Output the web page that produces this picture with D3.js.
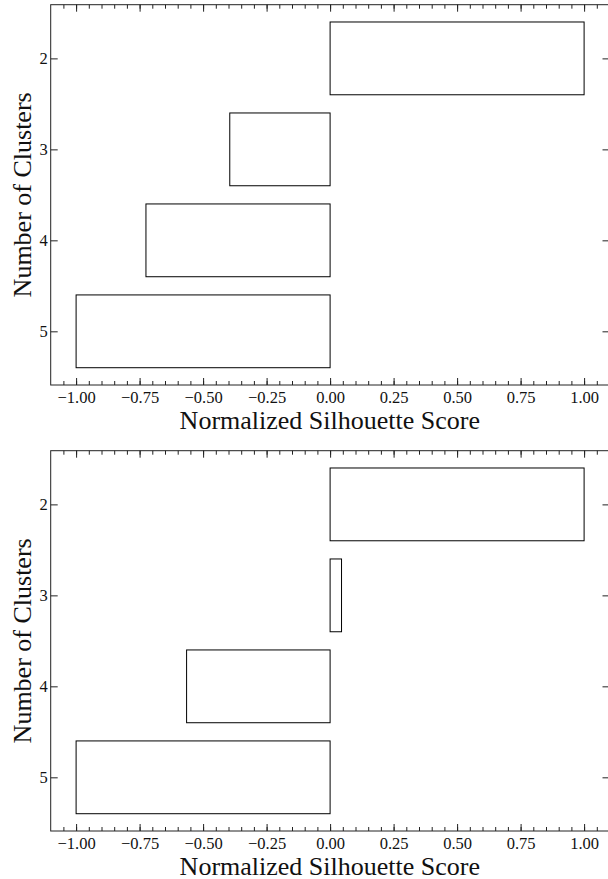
<!DOCTYPE html>
<html>
<head>
<meta charset="utf-8">
<script src="https://cdn.jsdelivr.net/npm/d3@7"></script>
<style>
  html, body { margin: 0; padding: 0; background: #fff; }
  svg { display: block; }
  text { font-family: "Liberation Serif", "DejaVu Serif", serif; fill: #111; }
  .tick text { font-size: 16.5px; }
</style>
</head>
<body>
<svg id="chart" width="608" height="879"></svg>
<script>
// Cluster counts on the vertical axis
const clusters = [2, 3, 4, 5];
// Normalized silhouette scores, one series per panel
const scoresUpper = [1.0, -0.395, -0.725, -1.0];
const scoresLower = [1.0, 0.045, -0.565, -1.0];
// Axis ticks
const xMajorTicks = [-1.0, -0.75, -0.5, -0.25, 0.0, 0.25, 0.5, 0.75, 1.0];
const xMinorTicks = d3.range(-21, 22).map(i => i * 0.05).filter(v => Math.abs(v) <= 1.1 + 1e-9);
const xLabel = "Normalized Silhouette Score";
const yLabel = "Number of Clusters";

const svg = d3.select("#chart");
const left = 50.7, width = 558.8, panelH = 380.3;
const panels = [
  { top: 4.7, scores: scoresUpper },
  { top: 450.7, scores: scoresLower }
];

const x = d3.scaleLinear().domain([-1.1, 1.1]).range([left, left + width]);
const fmt = d3.format(".2f");
const tickFont = "'Liberation Serif', 'DejaVu Serif', serif";

panels.forEach(p => {
  const y = d3.scaleLinear().domain([1.41, 5.59]).range([p.top, p.top + panelH]);
  const g = svg.append("g");
  const bottom = p.top + panelH, right = left + width;

  // bars, outlined only
  g.selectAll("rect.bar").data(clusters).join("rect")
    .attr("class", "bar")
    .attr("x", (c, i) => x(Math.min(0, p.scores[i])))
    .attr("width", (c, i) => Math.abs(x(p.scores[i]) - x(0)))
    .attr("y", c => y(c - 0.4))
    .attr("height", c => y(c + 0.4) - y(c - 0.4))
    .attr("fill", "none")
    .attr("stroke", "#000")
    .attr("stroke-width", 1);

  // bottom axis with inward ticks
  const ax = g.append("g").attr("transform", `translate(0,${bottom})`)
    .call(d3.axisBottom(x).tickValues(xMajorTicks).tickSize(-7).tickFormat(fmt))
    .attr("font-size", 16.5).attr("font-family", tickFont);
  ax.select(".domain").remove();
  ax.selectAll(".tick line").attr("stroke", "#222");
  ax.selectAll(".tick text").attr("y", 17.7).attr("dy", 0).attr("fill", "#111");
  g.append("g").attr("transform", `translate(0,${bottom})`)
    .call(d3.axisBottom(x).tickValues(xMinorTicks).tickSize(-4).tickFormat(""))
    .call(s => s.select(".domain").remove())
    .selectAll(".tick line").attr("stroke", "#222");

  // top axis: major and minor ticks, no labels
  g.append("g").attr("transform", `translate(0,${p.top})`)
    .call(d3.axisTop(x).tickValues(xMajorTicks).tickSize(-7).tickFormat(""))
    .call(s => s.select(".domain").remove())
    .selectAll(".tick line").attr("stroke", "#222");
  g.append("g").attr("transform", `translate(0,${p.top})`)
    .call(d3.axisTop(x).tickValues(xMinorTicks).tickSize(-4).tickFormat(""))
    .call(s => s.select(".domain").remove())
    .selectAll(".tick line").attr("stroke", "#222");

  // left axis with category labels
  const ay = g.append("g").attr("transform", `translate(${left},0)`)
    .call(d3.axisLeft(y).tickValues(clusters).tickSize(-7).tickFormat(d3.format("d")))
    .attr("font-size", 16.5).attr("font-family", tickFont);
  ay.select(".domain").remove();
  ay.selectAll(".tick line").attr("stroke", "#222");
  ay.selectAll(".tick text").attr("x", -3).attr("dy", "0.33em").attr("fill", "#111");

  // right axis ticks
  g.append("g").attr("transform", `translate(${right},0)`)
    .call(d3.axisRight(y).tickValues(clusters).tickSize(-7).tickFormat(""))
    .call(s => s.select(".domain").remove())
    .selectAll(".tick line").attr("stroke", "#222");

  // frame
  g.append("rect")
    .attr("x", left).attr("y", p.top)
    .attr("width", width).attr("height", panelH)
    .attr("fill", "none").attr("stroke", "#222").attr("stroke-width", 1);

  // axis titles
  g.append("text")
    .attr("x", x(0) - 0.3).attr("y", bottom + 43.5)
    .attr("text-anchor", "middle")
    .style("font-size", "26px")
    .text(xLabel);
  g.append("text")
    .attr("transform", `translate(31,${p.top + panelH / 2}) rotate(-90)`)
    .attr("text-anchor", "middle")
    .style("font-size", "26px")
    .text(yLabel);
});
</script>
</body>
</html>
